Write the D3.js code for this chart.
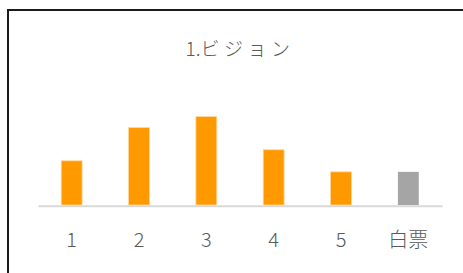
<!DOCTYPE html>
<html>
<head>
<meta charset="utf-8">
<script src="https://cdn.jsdelivr.net/npm/d3@7"></script>
<style>
  body { margin: 0; background: #fff; }
  svg { display: block; }
  text { font-family: "Noto Sans CJK JP", "Noto Sans", sans-serif; fill: #595959; }
</style>
</head>
<body>
<div id="chart"></div>
<script>
// chart data
const title = "1.ビジョン";
const categories = ["1", "2", "3", "4", "5", "白票"];
const votes = [4, 7, 8, 5, 3, 3];
const barColors = ["#FF9900", "#FF9900", "#FF9900", "#FF9900", "#FF9900", "#A5A5A5"];

const width = 463, height = 273;
const plot = { left: 38, right: 442, top: 94.5, bottom: 205 };

const svg = d3.select("#chart")
  .append("svg")
  .attr("width", width)
  .attr("height", height);

// chart frame (runs off the right and bottom edge)
svg.append("rect")
  .attr("x", 8)
  .attr("y", 10)
  .attr("width", 480)
  .attr("height", 300)
  .attr("fill", "#fff")
  .attr("stroke", "#1a1a1a")
  .attr("stroke-width", 2);

const x = d3.scaleBand()
  .domain(categories)
  .range([plot.left, plot.right])
  .paddingInner(0.69)
  .paddingOuter(0.345);

const y = d3.scaleLinear()
  .domain([0, 10])
  .range([plot.bottom, plot.top]);

// title: number part tight, katakana spaced out
const titleText = svg.append("text")
  .attr("x", (plot.left + plot.right) / 2)
  .attr("y", 56)
  .attr("text-anchor", "middle")
  .style("font-size", "19px")
  .style("font-weight", 300);

titleText.append("tspan")
  .text(title.slice(0, 2));

titleText.append("tspan")
  .style("letter-spacing", "4.5px")
  .text(title.slice(2));

// bars
svg.selectAll(".bar")
  .data(votes)
  .enter()
  .append("rect")
  .attr("class", "bar")
  .attr("x", (d, i) => x(categories[i]))
  .attr("y", d => y(d))
  .attr("width", x.bandwidth())
  .attr("height", d => y(0) - y(d))
  .attr("fill", (d, i) => barColors[i])
  .attr("stroke", (d, i) => i < 5 ? "#FFD699" : "none")
  .attr("stroke-width", 0.8);

// category axis
const xAxis = svg.append("g")
  .attr("transform", `translate(0,${plot.bottom + 0.7})`)
  .call(d3.axisBottom(x).tickSize(0).tickPadding(27));

xAxis.select(".domain")
  .attr("stroke", "#D9D9D9")
  .attr("stroke-width", 2);

xAxis.selectAll("text")
  .style("font-size", "20px")
  .style("font-weight", 300)
  .style("fill", "#595959")
  .style("font-family", "\"Noto Sans CJK JP\", sans-serif");
</script>
</body>
</html>
